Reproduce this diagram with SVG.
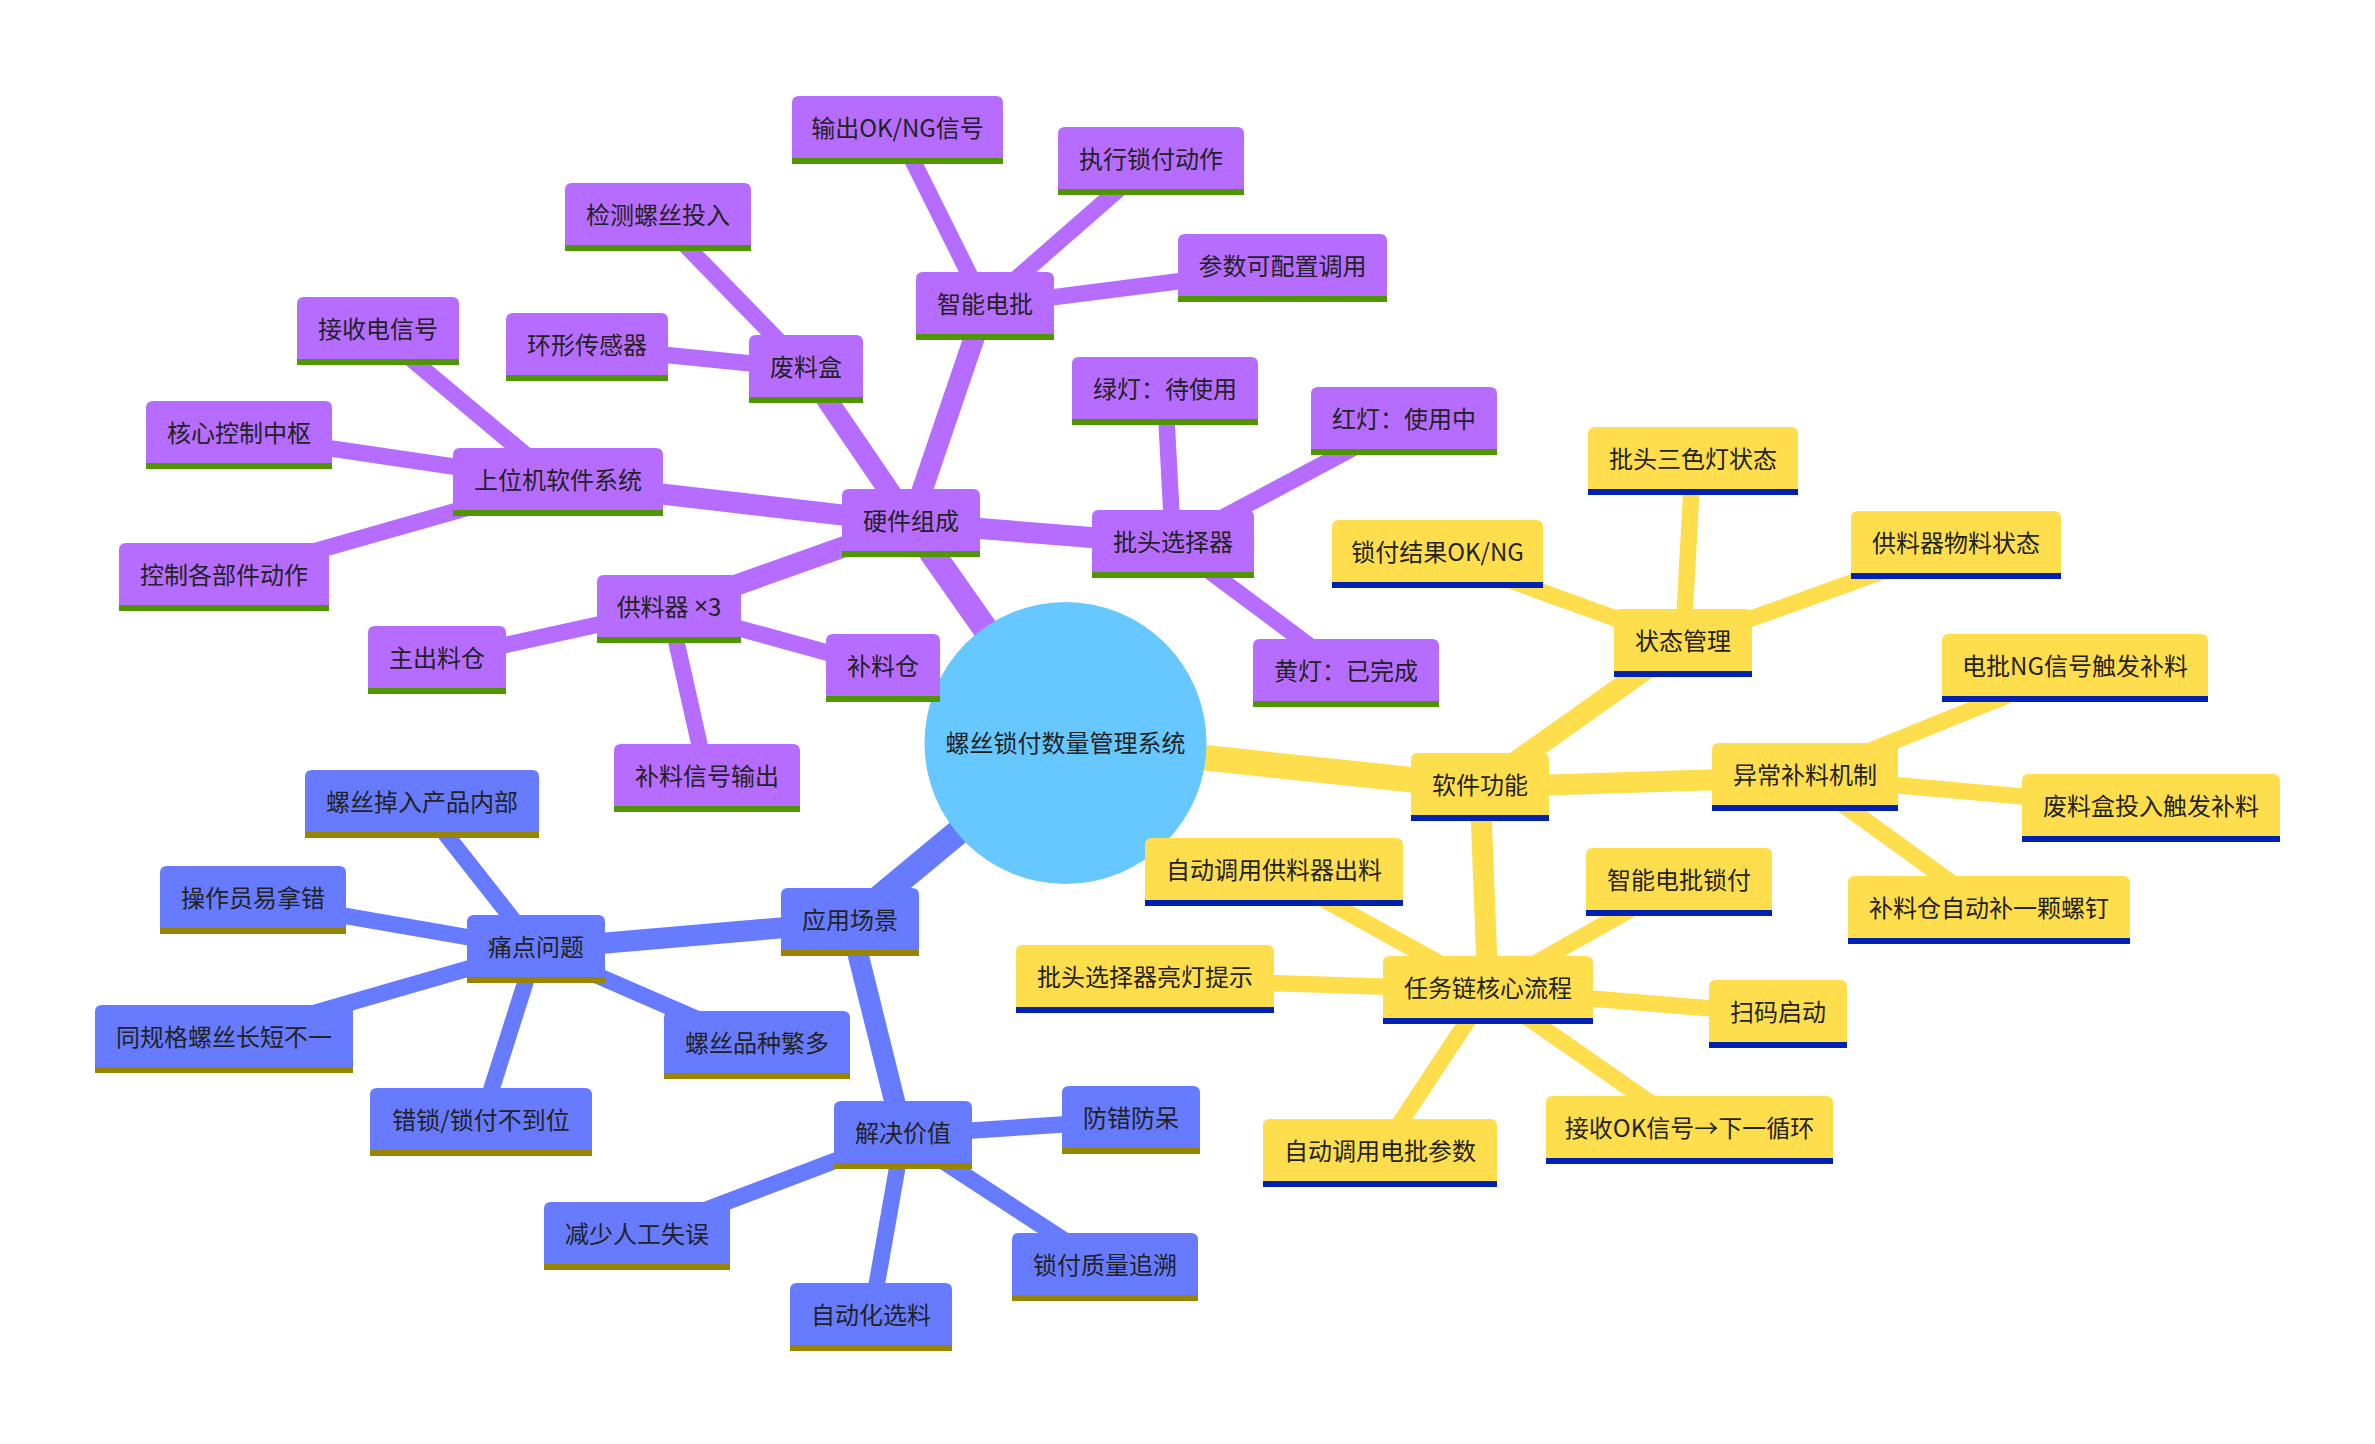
<svg xmlns="http://www.w3.org/2000/svg" width="2375" height="1444" viewBox="0 0 2375 1444">
<style>
text{font-family:"Noto Sans CJK SC","Noto Sans",sans-serif;font-size:24px;fill:#222;text-anchor:middle;dominant-baseline:central}
.lat{font-family:"Liberation Sans",sans-serif}
.p .bg{fill:#b66cff}.p .bar{fill:#4f9600}
.y .bg{fill:#ffde4d}.y .bar{fill:#0021b2}
.b .bg{fill:#667bff}.b .bar{fill:#998400}
.e line{stroke-linecap:butt}
.ep{stroke:#b66cff}.ey{stroke:#ffde4d}.eb{stroke:#667bff}
.d0{stroke-width:25.5}.d1{stroke-width:21}.d2{stroke-width:16.5}
</style>
<rect width="2375" height="1444" fill="#fff"/>
<g id="connectors" class="e">
<line class="ep d0" x1="1065.5" y1="743" x2="911" y2="523"/>
<line class="ey d0" x1="1065.5" y1="743" x2="1480" y2="787"/>
<line class="eb d0" x1="1065.5" y1="743" x2="850" y2="922"/>
<line class="ep d1" x1="911" y1="523" x2="985" y2="306"/>
<line class="ep d1" x1="911" y1="523" x2="806" y2="369"/>
<line class="ep d1" x1="911" y1="523" x2="558" y2="482"/>
<line class="ep d1" x1="911" y1="523" x2="669" y2="609"/>
<line class="ep d1" x1="911" y1="523" x2="1173" y2="544"/>
<line class="ep d2" x1="985" y1="306" x2="897.5" y2="130"/>
<line class="ep d2" x1="985" y1="306" x2="1151" y2="161"/>
<line class="ep d2" x1="985" y1="306" x2="1282.5" y2="268"/>
<line class="ep d2" x1="806" y1="369" x2="658" y2="217"/>
<line class="ep d2" x1="806" y1="369" x2="587" y2="347"/>
<line class="ep d2" x1="558" y1="482" x2="378" y2="331"/>
<line class="ep d2" x1="558" y1="482" x2="239" y2="435"/>
<line class="ep d2" x1="558" y1="482" x2="224" y2="577"/>
<line class="ep d2" x1="669" y1="609" x2="437" y2="660"/>
<line class="ep d2" x1="669" y1="609" x2="883" y2="668"/>
<line class="ep d2" x1="669" y1="609" x2="707" y2="778"/>
<line class="ep d2" x1="1173" y1="544" x2="1165" y2="391"/>
<line class="ep d2" x1="1173" y1="544" x2="1404" y2="421"/>
<line class="ep d2" x1="1173" y1="544" x2="1346" y2="673"/>
<line class="ey d1" x1="1480" y1="787" x2="1683" y2="643"/>
<line class="ey d1" x1="1480" y1="787" x2="1805" y2="777"/>
<line class="ey d1" x1="1480" y1="787" x2="1488" y2="990"/>
<line class="ey d2" x1="1683" y1="643" x2="1693" y2="461"/>
<line class="ey d2" x1="1683" y1="643" x2="1437.5" y2="554"/>
<line class="ey d2" x1="1683" y1="643" x2="1956" y2="545"/>
<line class="ey d2" x1="1805" y1="777" x2="2075" y2="668"/>
<line class="ey d2" x1="1805" y1="777" x2="2151" y2="808"/>
<line class="ey d2" x1="1805" y1="777" x2="1989" y2="910"/>
<line class="ey d2" x1="1488" y1="990" x2="1274" y2="872"/>
<line class="ey d2" x1="1488" y1="990" x2="1679" y2="882"/>
<line class="ey d2" x1="1488" y1="990" x2="1145" y2="979"/>
<line class="ey d2" x1="1488" y1="990" x2="1778" y2="1014"/>
<line class="ey d2" x1="1488" y1="990" x2="1689.5" y2="1130"/>
<line class="ey d2" x1="1488" y1="990" x2="1380" y2="1153"/>
<line class="eb d1" x1="850" y1="922" x2="536" y2="949"/>
<line class="eb d1" x1="850" y1="922" x2="903" y2="1135"/>
<line class="eb d2" x1="536" y1="949" x2="422" y2="804"/>
<line class="eb d2" x1="536" y1="949" x2="253" y2="900"/>
<line class="eb d2" x1="536" y1="949" x2="224" y2="1039"/>
<line class="eb d2" x1="536" y1="949" x2="481" y2="1122"/>
<line class="eb d2" x1="536" y1="949" x2="757" y2="1045"/>
<line class="eb d2" x1="903" y1="1135" x2="637" y2="1236"/>
<line class="eb d2" x1="903" y1="1135" x2="871" y2="1317"/>
<line class="eb d2" x1="903" y1="1135" x2="1131" y2="1120"/>
<line class="eb d2" x1="903" y1="1135" x2="1105" y2="1267"/>
</g>
<g id="root"><circle cx="1065.5" cy="743" r="141" fill="#66c8ff"/><text x="1065.5" y="741">螺丝锁付数量管理系统</text></g>
<g id="n-hw" class="p" transform="translate(842,489)"><path class="bg" d="M0 66V7Q0 0 7 0H131Q138 0 138 7V66Z"/><rect class="bar" y="62" width="138" height="6"/><text x="69" y="30">硬件组成</text></g>
<g id="n-djp" class="p" transform="translate(916,272)"><path class="bg" d="M0 66V7Q0 0 7 0H131Q138 0 138 7V66Z"/><rect class="bar" y="62" width="138" height="6"/><text x="69" y="30">智能电批</text></g>
<g id="n-ok" class="p" transform="translate(792,96)"><path class="bg" d="M0 66V7Q0 0 7 0H204Q211 0 211 7V66Z"/><rect class="bar" y="62" width="211" height="6"/><text x="105.5" y="30">输出OK/NG信号</text></g>
<g id="n-zx" class="p" transform="translate(1058,127)"><path class="bg" d="M0 66V7Q0 0 7 0H179Q186 0 186 7V66Z"/><rect class="bar" y="62" width="186" height="6"/><text x="93" y="30">执行锁付动作</text></g>
<g id="n-cs" class="p" transform="translate(1178,234)"><path class="bg" d="M0 66V7Q0 0 7 0H202Q209 0 209 7V66Z"/><rect class="bar" y="62" width="209" height="6"/><text x="104.5" y="30">参数可配置调用</text></g>
<g id="n-flh" class="p" transform="translate(749,335)"><path class="bg" d="M0 66V7Q0 0 7 0H107Q114 0 114 7V66Z"/><rect class="bar" y="62" width="114" height="6"/><text x="57" y="30">废料盒</text></g>
<g id="n-jc" class="p" transform="translate(565,183)"><path class="bg" d="M0 66V7Q0 0 7 0H179Q186 0 186 7V66Z"/><rect class="bar" y="62" width="186" height="6"/><text x="93" y="30">检测螺丝投入</text></g>
<g id="n-hx" class="p" transform="translate(506,313)"><path class="bg" d="M0 66V7Q0 0 7 0H155Q162 0 162 7V66Z"/><rect class="bar" y="62" width="162" height="6"/><text x="81" y="30">环形传感器</text></g>
<g id="n-swj" class="p" transform="translate(453,448)"><path class="bg" d="M0 66V7Q0 0 7 0H203Q210 0 210 7V66Z"/><rect class="bar" y="62" width="210" height="6"/><text x="105" y="30">上位机软件系统</text></g>
<g id="n-js" class="p" transform="translate(297,297)"><path class="bg" d="M0 66V7Q0 0 7 0H155Q162 0 162 7V66Z"/><rect class="bar" y="62" width="162" height="6"/><text x="81" y="30">接收电信号</text></g>
<g id="n-hk" class="p" transform="translate(146,401)"><path class="bg" d="M0 66V7Q0 0 7 0H179Q186 0 186 7V66Z"/><rect class="bar" y="62" width="186" height="6"/><text x="93" y="30">核心控制中枢</text></g>
<g id="n-kz" class="p" transform="translate(119,543)"><path class="bg" d="M0 66V7Q0 0 7 0H203Q210 0 210 7V66Z"/><rect class="bar" y="62" width="210" height="6"/><text x="105" y="30">控制各部件动作</text></g>
<g id="n-gl" class="p" transform="translate(597,575)"><path class="bg" d="M0 66V7Q0 0 7 0H137Q144 0 144 7V66Z"/><rect class="bar" y="62" width="144" height="6"/><text x="72" y="30">供料器 <tspan class="lat">×</tspan>3</text></g>
<g id="n-zc" class="p" transform="translate(368,626)"><path class="bg" d="M0 66V7Q0 0 7 0H131Q138 0 138 7V66Z"/><rect class="bar" y="62" width="138" height="6"/><text x="69" y="30">主出料仓</text></g>
<g id="n-blc" class="p" transform="translate(826,634)"><path class="bg" d="M0 66V7Q0 0 7 0H107Q114 0 114 7V66Z"/><rect class="bar" y="62" width="114" height="6"/><text x="57" y="30">补料仓</text></g>
<g id="n-blx" class="p" transform="translate(614,744)"><path class="bg" d="M0 66V7Q0 0 7 0H179Q186 0 186 7V66Z"/><rect class="bar" y="62" width="186" height="6"/><text x="93" y="30">补料信号输出</text></g>
<g id="n-pt" class="p" transform="translate(1092,510)"><path class="bg" d="M0 66V7Q0 0 7 0H155Q162 0 162 7V66Z"/><rect class="bar" y="62" width="162" height="6"/><text x="81" y="30">批头选择器</text></g>
<g id="n-lv" class="p" transform="translate(1072,357)"><path class="bg" d="M0 66V7Q0 0 7 0H179Q186 0 186 7V66Z"/><rect class="bar" y="62" width="186" height="6"/><text x="93" y="30">绿灯：待使用</text></g>
<g id="n-hong" class="p" transform="translate(1311,387)"><path class="bg" d="M0 66V7Q0 0 7 0H179Q186 0 186 7V66Z"/><rect class="bar" y="62" width="186" height="6"/><text x="93" y="30">红灯：使用中</text></g>
<g id="n-huang" class="p" transform="translate(1253,639)"><path class="bg" d="M0 66V7Q0 0 7 0H179Q186 0 186 7V66Z"/><rect class="bar" y="62" width="186" height="6"/><text x="93" y="30">黄灯：已完成</text></g>
<g id="n-rj" class="y" transform="translate(1411,753)"><path class="bg" d="M0 66V7Q0 0 7 0H131Q138 0 138 7V66Z"/><rect class="bar" y="62" width="138" height="6"/><text x="69" y="30">软件功能</text></g>
<g id="n-zt" class="y" transform="translate(1614,609)"><path class="bg" d="M0 66V7Q0 0 7 0H131Q138 0 138 7V66Z"/><rect class="bar" y="62" width="138" height="6"/><text x="69" y="30">状态管理</text></g>
<g id="n-sd" class="y" transform="translate(1588,427)"><path class="bg" d="M0 66V7Q0 0 7 0H203Q210 0 210 7V66Z"/><rect class="bar" y="62" width="210" height="6"/><text x="105" y="30">批头三色灯状态</text></g>
<g id="n-sfjg" class="y" transform="translate(1332,520)"><path class="bg" d="M0 66V7Q0 0 7 0H204Q211 0 211 7V66Z"/><rect class="bar" y="62" width="211" height="6"/><text x="105.5" y="30">锁付结果OK/NG</text></g>
<g id="n-wl" class="y" transform="translate(1851,511)"><path class="bg" d="M0 66V7Q0 0 7 0H203Q210 0 210 7V66Z"/><rect class="bar" y="62" width="210" height="6"/><text x="105" y="30">供料器物料状态</text></g>
<g id="n-yc" class="y" transform="translate(1712,743)"><path class="bg" d="M0 66V7Q0 0 7 0H179Q186 0 186 7V66Z"/><rect class="bar" y="62" width="186" height="6"/><text x="93" y="30">异常补料机制</text></g>
<g id="n-ng" class="y" transform="translate(1942,634)"><path class="bg" d="M0 66V7Q0 0 7 0H259Q266 0 266 7V66Z"/><rect class="bar" y="62" width="266" height="6"/><text x="133" y="30">电批NG信号触发补料</text></g>
<g id="n-fl" class="y" transform="translate(2022,774)"><path class="bg" d="M0 66V7Q0 0 7 0H251Q258 0 258 7V66Z"/><rect class="bar" y="62" width="258" height="6"/><text x="129" y="30">废料盒投入触发补料</text></g>
<g id="n-bl" class="y" transform="translate(1848,876)"><path class="bg" d="M0 66V7Q0 0 7 0H275Q282 0 282 7V66Z"/><rect class="bar" y="62" width="282" height="6"/><text x="141" y="30">补料仓自动补一颗螺钉</text></g>
<g id="n-rw" class="y" transform="translate(1383,956)"><path class="bg" d="M0 66V7Q0 0 7 0H203Q210 0 210 7V66Z"/><rect class="bar" y="62" width="210" height="6"/><text x="105" y="30">任务链核心流程</text></g>
<g id="n-zdgl" class="y" transform="translate(1145,838)"><path class="bg" d="M0 66V7Q0 0 7 0H251Q258 0 258 7V66Z"/><rect class="bar" y="62" width="258" height="6"/><text x="129" y="30">自动调用供料器出料</text></g>
<g id="n-znsf" class="y" transform="translate(1586,848)"><path class="bg" d="M0 66V7Q0 0 7 0H179Q186 0 186 7V66Z"/><rect class="bar" y="62" width="186" height="6"/><text x="93" y="30">智能电批锁付</text></g>
<g id="n-ptld" class="y" transform="translate(1016,945)"><path class="bg" d="M0 66V7Q0 0 7 0H251Q258 0 258 7V66Z"/><rect class="bar" y="62" width="258" height="6"/><text x="129" y="30">批头选择器亮灯提示</text></g>
<g id="n-sm" class="y" transform="translate(1709,980)"><path class="bg" d="M0 66V7Q0 0 7 0H131Q138 0 138 7V66Z"/><rect class="bar" y="62" width="138" height="6"/><text x="69" y="30">扫码启动</text></g>
<g id="n-jsok" class="y" transform="translate(1546,1096)"><path class="bg" d="M0 66V7Q0 0 7 0H280Q287 0 287 7V66Z"/><rect class="bar" y="62" width="287" height="6"/><text x="143.5" y="30">接收OK信号→下一循环</text></g>
<g id="n-zddp" class="y" transform="translate(1263,1119)"><path class="bg" d="M0 66V7Q0 0 7 0H227Q234 0 234 7V66Z"/><rect class="bar" y="62" width="234" height="6"/><text x="117" y="30">自动调用电批参数</text></g>
<g id="n-yy" class="b" transform="translate(781,888)"><path class="bg" d="M0 66V7Q0 0 7 0H131Q138 0 138 7V66Z"/><rect class="bar" y="62" width="138" height="6"/><text x="69" y="30">应用场景</text></g>
<g id="n-td" class="b" transform="translate(467,915)"><path class="bg" d="M0 66V7Q0 0 7 0H131Q138 0 138 7V66Z"/><rect class="bar" y="62" width="138" height="6"/><text x="69" y="30">痛点问题</text></g>
<g id="n-dr" class="b" transform="translate(305,770)"><path class="bg" d="M0 66V7Q0 0 7 0H227Q234 0 234 7V66Z"/><rect class="bar" y="62" width="234" height="6"/><text x="117" y="30">螺丝掉入产品内部</text></g>
<g id="n-czy" class="b" transform="translate(160,866)"><path class="bg" d="M0 66V7Q0 0 7 0H179Q186 0 186 7V66Z"/><rect class="bar" y="62" width="186" height="6"/><text x="93" y="30">操作员易拿错</text></g>
<g id="n-tgg" class="b" transform="translate(95,1005)"><path class="bg" d="M0 66V7Q0 0 7 0H251Q258 0 258 7V66Z"/><rect class="bar" y="62" width="258" height="6"/><text x="129" y="30">同规格螺丝长短不一</text></g>
<g id="n-cs2" class="b" transform="translate(370,1088)"><path class="bg" d="M0 66V7Q0 0 7 0H215Q222 0 222 7V66Z"/><rect class="bar" y="62" width="222" height="6"/><text x="111" y="30">错锁/锁付不到位</text></g>
<g id="n-pz" class="b" transform="translate(664,1011)"><path class="bg" d="M0 66V7Q0 0 7 0H179Q186 0 186 7V66Z"/><rect class="bar" y="62" width="186" height="6"/><text x="93" y="30">螺丝品种繁多</text></g>
<g id="n-jj" class="b" transform="translate(834,1101)"><path class="bg" d="M0 66V7Q0 0 7 0H131Q138 0 138 7V66Z"/><rect class="bar" y="62" width="138" height="6"/><text x="69" y="30">解决价值</text></g>
<g id="n-js2" class="b" transform="translate(544,1202)"><path class="bg" d="M0 66V7Q0 0 7 0H179Q186 0 186 7V66Z"/><rect class="bar" y="62" width="186" height="6"/><text x="93" y="30">减少人工失误</text></g>
<g id="n-zdh" class="b" transform="translate(790,1283)"><path class="bg" d="M0 66V7Q0 0 7 0H155Q162 0 162 7V66Z"/><rect class="bar" y="62" width="162" height="6"/><text x="81" y="30">自动化选料</text></g>
<g id="n-fc" class="b" transform="translate(1062,1086)"><path class="bg" d="M0 66V7Q0 0 7 0H131Q138 0 138 7V66Z"/><rect class="bar" y="62" width="138" height="6"/><text x="69" y="30">防错防呆</text></g>
<g id="n-zl" class="b" transform="translate(1012,1233)"><path class="bg" d="M0 66V7Q0 0 7 0H179Q186 0 186 7V66Z"/><rect class="bar" y="62" width="186" height="6"/><text x="93" y="30">锁付质量追溯</text></g>
</svg>
